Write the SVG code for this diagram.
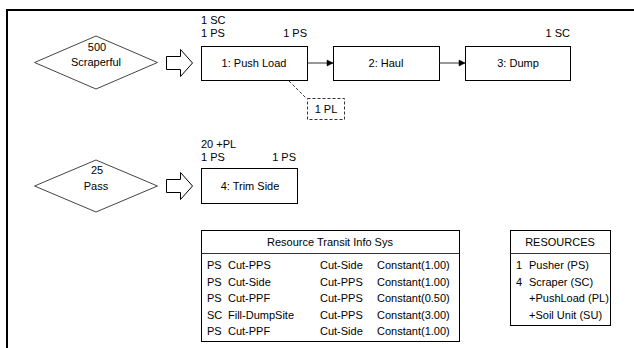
<svg xmlns="http://www.w3.org/2000/svg" width="634" height="348" viewBox="0 0 634 348">
<defs>
<style>
text{font-family:"Liberation Sans",Arial,sans-serif;font-size:11px;fill:#000}
.c{text-anchor:middle}
.r{text-anchor:end}
.box{fill:#fff;stroke:#000;stroke-width:1}
.dia{fill:#fff;stroke:#444;stroke-width:1}
.blk{fill:#fff;stroke:#000;stroke-width:1}
.ln{fill:none;stroke:#333;stroke-width:1}
.dash{fill:none;stroke:#333;stroke-width:1;stroke-dasharray:3,2}
</style>
<marker id="ah" markerWidth="8" markerHeight="8" refX="7" refY="4" orient="auto" markerUnits="userSpaceOnUse">
<path d="M1,1 L7,4 L1,7 Z" fill="#000" stroke="#000" stroke-width="0.5"/>
</marker>
</defs>
<rect x="0" y="0" width="634" height="348" fill="#fff"/>
<g id="frame">
<path d="M7,348 V10 H634" fill="none" stroke="#000" stroke-width="2"/>
</g>
<g id="source1">
<polygon class="dia" points="34.5,62.5 96,36 157.5,62.5 96,89"/>
<text class="c" x="97" y="51">500</text>
<text class="c" x="96" y="66">Scraperful</text>
</g>
<g id="feed1">
<polygon class="blk" points="166.5,56.5 180.5,56.5 180.5,49.5 192.5,63 180.5,76.5 180.5,69.5 166.5,69.5"/>
</g>
<g id="act1">
<rect class="box" x="201.5" y="46.5" width="106" height="34"/>
<text class="c" x="254" y="67">1: Push Load</text>
<text x="201" y="24">1 SC</text>
<text x="201" y="37">1 PS</text>
<text class="r" x="307" y="37">1 PS</text>
</g>
<g id="act2">
<rect class="box" x="333.5" y="46.5" width="106" height="34"/>
<text class="c" x="386" y="67">2: Haul</text>
</g>
<g id="act3">
<rect class="box" x="465.5" y="46.5" width="105" height="34"/>
<text class="c" x="518" y="67">3: Dump</text>
<text class="r" x="570" y="37">1 SC</text>
</g>
<g id="queue1">
<rect class="dash" x="307.5" y="98.5" width="37" height="21"/>
<text class="c" x="326" y="113">1 PL</text>
</g>
<g id="source2">
<polygon class="dia" points="34.5,186 96,160 157.5,186 96,212"/>
<text class="c" x="97" y="174">25</text>
<text class="c" x="96" y="190">Pass</text>
</g>
<g id="feed2">
<polygon class="blk" points="166.5,179.5 180.5,179.5 180.5,172.5 192.5,186 180.5,199.5 180.5,192.5 166.5,192.5"/>
</g>
<g id="act4">
<rect class="box" x="201.5" y="168.5" width="96" height="35"/>
<text class="c" x="250" y="190">4: Trim Side</text>
<text x="201" y="147.5">20 +PL</text>
<text x="201" y="160.5">1 PS</text>
<text class="r" x="296" y="160.5">1 PS</text>
</g>
<g id="connectors">
<line class="ln" x1="307.5" y1="63" x2="333" y2="63" marker-end="url(#ah)"/>
<line class="ln" x1="439.5" y1="63" x2="465" y2="63" marker-end="url(#ah)"/>
<line class="dash" x1="289" y1="81" x2="306" y2="98"/>
</g>
<g id="transit-table">
<rect class="box" x="201.5" y="230.5" width="258" height="111"/>
<line class="ln" x1="201.5" y1="253.5" x2="459.5" y2="253.5"/>
<text class="c" x="330" y="246">Resource Transit Info Sys</text>
<text x="207" y="269">PS</text><text x="228" y="269">Cut-PPS</text><text x="320" y="269">Cut-Side</text><text x="377" y="269">Constant(1.00)</text>
<text x="207" y="285.5">PS</text><text x="228" y="285.5">Cut-Side</text><text x="320" y="285.5">Cut-PPS</text><text x="377" y="285.5">Constant(1.00)</text>
<text x="207" y="302">PS</text><text x="228" y="302">Cut-PPF</text><text x="320" y="302">Cut-PPS</text><text x="377" y="302">Constant(0.50)</text>
<text x="207" y="318.5">SC</text><text x="228" y="318.5">Fill-DumpSite</text><text x="320" y="318.5">Cut-PPS</text><text x="377" y="318.5">Constant(3.00)</text>
<text x="207" y="335">PS</text><text x="228" y="335">Cut-PPF</text><text x="320" y="335">Cut-Side</text><text x="377" y="335">Constant(1.00)</text>
</g>
<g id="resources-table">
<rect class="box" x="510.5" y="230.5" width="100" height="95"/>
<line class="ln" x1="510.5" y1="253.5" x2="610.5" y2="253.5"/>
<text class="c" x="560" y="246">RESOURCES</text>
<text x="516" y="269">1</text><text x="529" y="269">Pusher (PS)</text>
<text x="516" y="285.5">4</text><text x="529" y="285.5">Scraper (SC)</text>
<text x="529" y="302">+PushLoad (PL)</text>
<text x="529" y="318.5">+Soil Unit (SU)</text>
</g>
</svg>
